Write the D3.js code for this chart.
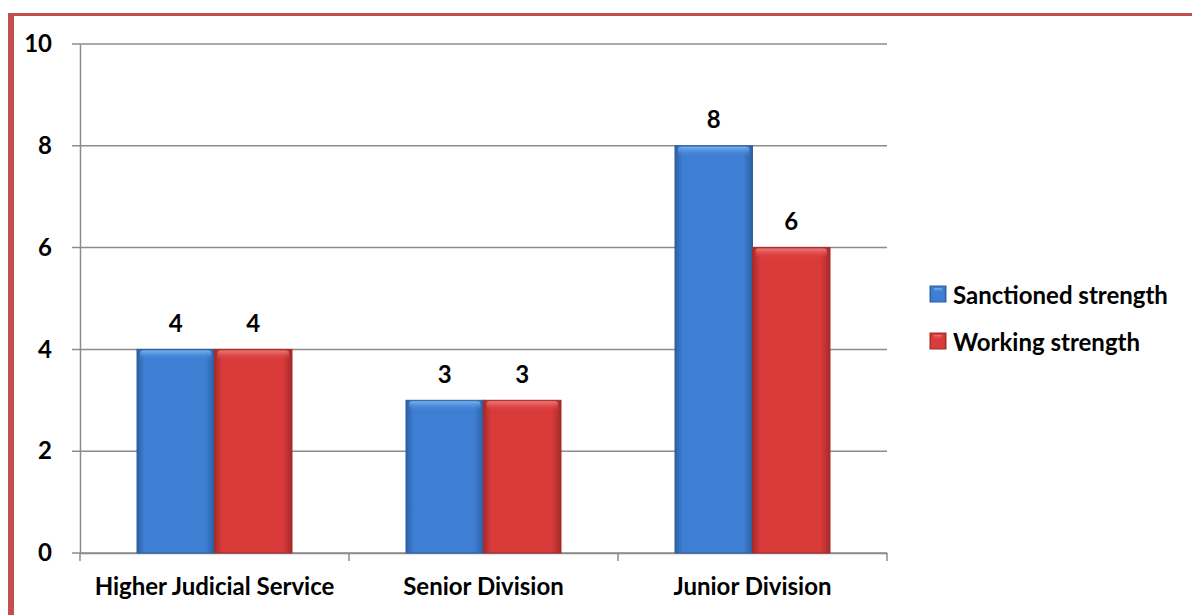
<!DOCTYPE html>
<html><head><meta charset="utf-8">
<script src="https://cdn.jsdelivr.net/npm/d3@7"></script>
<style>
html,body{margin:0;padding:0;background:#fff;}
svg{display:block;font-family:Lato, "Open Sans", sans-serif;font-weight:bold;}
</style></head>
<body>
<svg id="chart" width="1192" height="615"></svg>
<script>
const categories = ["Higher Judicial Service", "Senior Division", "Junior Division"];
const seriesNames = ["Sanctioned strength", "Working strength"];
const sanctioned = [4, 3, 8];
const working = [4, 3, 6];
const yTicks = [0, 2, 4, 6, 8, 10];

const FS = 24;
const svg = d3.select("#chart");
const defs = svg.append("defs");

// frame border
svg.append("rect").attr("x", 10.5).attr("y", 14.5).attr("width", 1200).attr("height", 700)
  .attr("fill", "none").attr("stroke", "#C0504D").attr("stroke-width", 3);
svg.append("line").attr("x1", 11).attr("x2", 11).attr("y1", 13).attr("y2", 615)
  .attr("stroke", "#C0504D").attr("stroke-width", 6);

const pLeft = 80, pRight = 887, pTop = 44, pBottom = 553;
const x = d3.scaleBand().domain(categories).range([pLeft, pRight]).paddingInner(0).paddingOuter(0);
const y = d3.scaleLinear().domain([0, 10]).range([pBottom, pTop]);
const inner = d3.scaleBand().domain(seriesNames).range([0, x.bandwidth()]).paddingInner(0).paddingOuter(0.7354);

const colors = {
  "Sanctioned strength": {mid: "#3E7FD3", edge: "#2C5FA3", light: "#7FB6F0"},
  "Working strength": {mid: "#D93B3B", edge: "#A52A2A", light: "#F08080"}
};
seriesNames.forEach((s, i) => {
  const c = colors[s];
  const g = defs.append("linearGradient").attr("id", "gh" + i).attr("x1", 0).attr("x2", 1).attr("y1", 0).attr("y2", 0);
  g.append("stop").attr("offset", "0%").attr("stop-color", c.edge);
  g.append("stop").attr("offset", "10%").attr("stop-color", c.mid);
  g.append("stop").attr("offset", "88%").attr("stop-color", c.mid);
  g.append("stop").attr("offset", "100%").attr("stop-color", c.edge);
  const gv = defs.append("linearGradient").attr("id", "gv" + i).attr("x1", 0).attr("x2", 0).attr("y1", 0).attr("y2", 1);
  gv.append("stop").attr("offset", "0%").attr("stop-color", c.light).attr("stop-opacity", 0.9);
  gv.append("stop").attr("offset", "100%").attr("stop-color", c.mid).attr("stop-opacity", 0);
});

// gridlines
svg.append("g").selectAll("line").data(yTicks).join("line")
  .attr("x1", pLeft - 8).attr("x2", pRight).attr("y1", d => y(d)).attr("y2", d => y(d))
  .attr("stroke", "#8C8C8C").attr("stroke-width", 1.5);

// y axis
const yAxis = svg.append("g").attr("transform", `translate(${pLeft},0)`)
  .call(d3.axisLeft(y).tickValues(yTicks).tickSize(0).tickPadding(28));
yAxis.select(".domain").attr("stroke", "#8C8C8C").attr("stroke-width", 1.5);
yAxis.selectAll("text").attr("font-size", FS).attr("font-family", "Lato, sans-serif").attr("font-weight", "bold").attr("fill", "#000");

// x axis
const xAxis = svg.append("g").attr("transform", `translate(0,${pBottom})`)
  .call(d3.axisBottom(x).tickSize(0).tickPadding(25));
xAxis.select(".domain").attr("stroke", "#8C8C8C").attr("stroke-width", 1.5);
xAxis.selectAll("text").attr("font-size", FS).attr("font-family", "Lato, sans-serif").attr("font-weight", "bold").attr("fill", "#000");
const boundaries = [pLeft].concat(categories.map(c => x(c) + x.bandwidth()));
svg.append("g").selectAll("line").data(boundaries).join("line")
  .attr("x1", d => d).attr("x2", d => d).attr("y1", pBottom).attr("y2", pBottom + 8)
  .attr("stroke", "#8C8C8C").attr("stroke-width", 1.5);

// bars
const data = [];
categories.forEach((c, ci) => {
  data.push({cat: c, s: seriesNames[0], si: 0, v: sanctioned[ci]});
  data.push({cat: c, s: seriesNames[1], si: 1, v: working[ci]});
});
const bars = svg.append("g").selectAll("g").data(data).join("g");
bars.append("rect")
  .attr("x", d => x(d.cat) + inner(d.s)).attr("y", d => y(d.v))
  .attr("width", inner.bandwidth()).attr("height", d => y(0) - y(d.v))
  .attr("fill", d => `url(#gh${d.si})`)
  .attr("stroke", d => colors[d.s].edge).attr("stroke-width", 1);
bars.append("rect")
  .attr("x", d => x(d.cat) + inner(d.s) + 3).attr("y", d => y(d.v) + 1)
  .attr("width", inner.bandwidth() - 6).attr("height", 10)
  .attr("rx", 3)
  .attr("fill", d => `url(#gv${d.si})`);
bars.append("text")
  .attr("x", d => x(d.cat) + inner(d.s) + inner.bandwidth() / 2)
  .attr("y", d => y(d.v) - 27)
  .attr("text-anchor", "middle").attr("dominant-baseline", "central")
  .attr("font-size", FS).attr("fill", "#000")
  .text(d => d.v);

// legend
const legend = svg.append("g").selectAll("g").data(seriesNames).join("g")
  .attr("transform", (d, i) => `translate(930,${294 + i * 47})`);
legend.append("rect").attr("x", 0).attr("y", -8).attr("width", 16).attr("height", 16)
  .attr("fill", (d, i) => `url(#gh${i})`).attr("stroke", d => colors[d].edge);
legend.append("rect").attr("x", 4).attr("y", -6).attr("width", 8).attr("height", 5)
  .attr("fill", (d, i) => `url(#gv${i})`);
legend.append("text").attr("x", 23).attr("y", 0).attr("dominant-baseline", "central")
  .attr("font-size", FS).attr("fill", "#000").text(d => d);
</script>
</body></html>
